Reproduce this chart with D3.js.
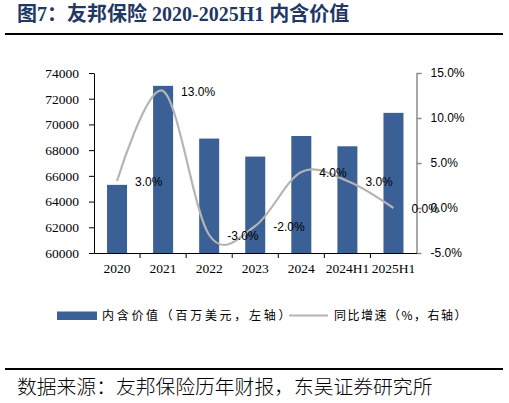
<!DOCTYPE html>
<html>
<head>
<meta charset="utf-8">
<script src="https://cdn.jsdelivr.net/npm/d3@7"></script>
<style>
    html, body { margin: 0; padding: 0; background: #fff; }
    svg { display: block; }
</style>
</head>
<body>
<svg id="chart"></svg>
<script>
// 友邦保险内含价值及同比增速
var categories = ['2020', '2021', '2022', '2023', '2024', '2024H1', '2025H1'];
var evValues = [65300, 73000, 68900, 67500, 69100, 68300, 70900];   // 百万美元
var growthValues = [3.0, 13.0, -3.0, -2.0, 4.0, 3.0, 0.0];         // %
var leftTicks = [60000, 62000, 64000, 66000, 68000, 70000, 72000, 74000];
var rightTicks = [-5, 0, 5, 10, 15];

(function () {
    'use strict';

    var width = 509, height = 403;
    var plot = { left: 94, right: 416.5, top: 73, bottom: 253 };
    var barColor = '#3a6096';
    var lineColor = '#b4b4b4';

    var svg = d3.select('#chart')
        .attr('width', width)
        .attr('height', height);

    // 标题
    svg.append('text')
        .attr('x', 17)
        .attr('y', 21)
        .attr('fill', '#1f3864')
        .attr('font-weight', 'bold')
        .attr('font-size', 20)
        .attr('font-family', '"Liberation Serif", "Noto Sans CJK SC", serif')
        .text('图7：友邦保险 2020-2025H1 内含价值');

    svg.append('line')
        .attr('x1', 5).attr('x2', 503)
        .attr('y1', 34).attr('y2', 34)
        .attr('stroke', '#000').attr('stroke-width', 2);

    var x = d3.scaleBand()
        .domain(categories)
        .range([plot.left, plot.right])
        .paddingInner(0)
        .paddingOuter(0);

    var barW = 20;

    var yLeft = d3.scaleLinear()
        .domain([60000, 74000])
        .range([plot.bottom, plot.top]);

    var yRight = d3.scaleLinear()
        .domain([-5, 15])
        .range([plot.bottom, plot.top]);

    // 柱
    svg.append('g').selectAll('rect')
        .data(evValues)
        .enter()
        .append('rect')
        .attr('x', function (d, i) { return x(categories[i]) + (x.bandwidth() - barW) / 2; })
        .attr('y', function (d) { return yLeft(d); })
        .attr('width', barW)
        .attr('height', function (d) { return plot.bottom - yLeft(d); })
        .attr('fill', barColor);

    // 左轴
    var leftAxis = svg.append('g')
        .attr('transform', 'translate(' + plot.left + ',0)')
        .call(d3.axisLeft(yLeft).tickValues(leftTicks).tickSize(5).tickSizeOuter(0).tickPadding(10)
            .tickFormat(d3.format('d')));
    leftAxis.selectAll('text').attr('font-size', 13.5).attr('fill', '#000')
        .attr('font-family', '"Liberation Serif", serif');
    leftAxis.selectAll('line,path').attr('stroke', '#000');

    // 右轴
    var rightAxis = svg.append('g')
        .attr('transform', 'translate(' + plot.right + ',0)')
        .call(d3.axisRight(yRight).tickValues(rightTicks).tickSize(5).tickSizeOuter(0).tickPadding(9)
            .tickFormat(function (d) { return d.toFixed(1) + '%'; }));
    rightAxis.selectAll('text').attr('font-size', 12).attr('fill', '#000')
        .attr('font-family', '"Liberation Sans", Arial, sans-serif');
    rightAxis.selectAll('line,path').attr('stroke', '#8c8c8c').attr('stroke-width', 1.5);

    // 底轴
    var bottomAxis = svg.append('g')
        .attr('transform', 'translate(0,' + plot.bottom + ')')
        .call(d3.axisBottom(x).tickSize(0).tickSizeOuter(0).tickPadding(10.5));
    bottomAxis.selectAll('text').attr('font-size', 13.5).attr('fill', '#000')
        .attr('font-family', '"Liberation Serif", serif');
    bottomAxis.select('path').attr('stroke', '#000');

    bottomAxis.selectAll('.sep')
        .data(categories.slice(1))
        .enter()
        .append('line')
        .attr('class', 'sep')
        .attr('x1', function (d) { return x(d); })
        .attr('x2', function (d) { return x(d); })
        .attr('y1', 0).attr('y2', 5)
        .attr('stroke', '#000');

    // 增速曲线
    var line = d3.line()
        .x(function (d, i) { return x(categories[i]) + x.bandwidth() / 2; })
        .y(function (d) { return yRight(d); })
        .curve(d3.curveCardinal.tension(0));

    svg.append('path')
        .datum(growthValues)
        .attr('d', line)
        .attr('fill', 'none')
        .attr('stroke', lineColor)
        .attr('stroke-width', 2.2);

    svg.append('g').selectAll('text')
        .data(growthValues)
        .enter()
        .append('text')
        .attr('x', function (d, i) { return x(categories[i]) + x.bandwidth() / 2 + 18; })
        .attr('y', function (d) { return yRight(d) + 4.5; })
        .attr('font-size', 12)
        .attr('font-family', '"Liberation Sans", Arial, sans-serif')
        .attr('fill', '#000')
        .text(function (d) { return d.toFixed(1) + '%'; });

    // 图例
    var legend = svg.append('g')
        .attr('font-family', '"Noto Sans CJK SC", sans-serif')
        .attr('font-size', 12);

    legend.append('rect')
        .attr('x', 57).attr('y', 311.5)
        .attr('width', 40).attr('height', 8.5)
        .attr('fill', barColor);
    legend.append('text')
        .attr('x', 102).attr('y', 320)
        .attr('letter-spacing', 2.7)
        .text('内含价值（百万美元，左轴）');

    legend.append('line')
        .attr('x1', 289).attr('x2', 328)
        .attr('y1', 315.5).attr('y2', 315.5)
        .attr('stroke', lineColor).attr('stroke-width', 2);
    legend.append('text')
        .attr('x', 334).attr('y', 320)
        .attr('letter-spacing', 1.5)
        .text('同比增速（%，右轴）');

    // 资料来源
    svg.append('line')
        .attr('x1', 5).attr('x2', 503)
        .attr('y1', 369).attr('y2', 369)
        .attr('stroke', '#000').attr('stroke-width', 2);

    svg.append('text')
        .attr('x', 17).attr('y', 394)
        .attr('font-family', '"Noto Sans CJK SC", sans-serif')
        .attr('font-weight', 300)
        .attr('font-size', 19.8)
        .attr('fill', '#000')
        .text('数据来源：友邦保险历年财报，东吴证券研究所');
})();
</script>
</body>
</html>
